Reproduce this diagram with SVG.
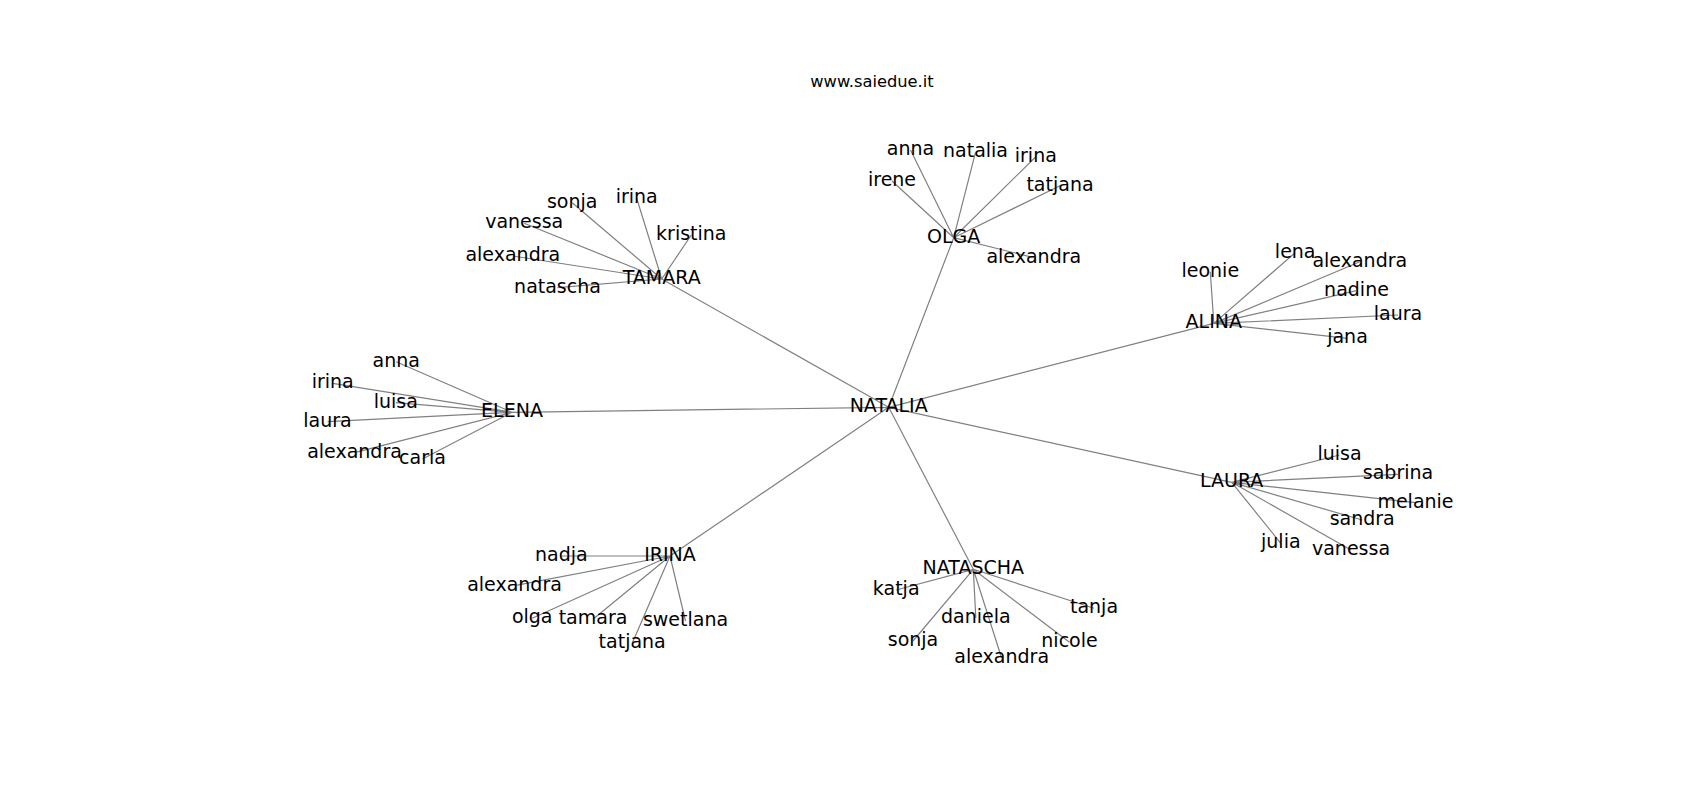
<svg xmlns="http://www.w3.org/2000/svg" width="1700" height="800" viewBox="0 0 1700 800">
<style>
.e{stroke:#808080;stroke-width:1.2;fill:none}
text{font-family:"DejaVu Sans","Liberation Sans",sans-serif;fill:#000;text-anchor:middle}
.n{font-size:19px}
.t{font-size:16.3px}
</style>
<rect width="1700" height="800" fill="#fff"/>
<text class="t" x="872" y="86.7">www.saiedue.it</text>
<g id="edges">
<path class="e" d="M888.7 407.3L953.7 237.7M888.7 407.3L1213.8 323.4M888.7 407.3L1231.7 482.3M888.7 407.3L661.7 279M888.7 407.3L512 412.3M888.7 407.3L670 556M888.7 407.3L973.3 569.3"/>
<path class="e" d="M953.7 237.7L910.5 150M953.7 237.7L975.5 152.3M953.7 237.7L1035.8 156.7M953.7 237.7L892 181M953.7 237.7L1060 185.7M953.7 237.7L1033.8 257.7"/>
<path class="e" d="M1213.8 323.4L1295.2 252.7M1213.8 323.4L1359.8 261.7M1213.8 323.4L1210.3 271.7M1213.8 323.4L1356.5 290.7M1213.8 323.4L1398 315M1213.8 323.4L1347.5 338.3"/>
<path class="e" d="M1231.7 482.3L1339.5 455M1231.7 482.3L1398 474.3M1231.7 482.3L1415.5 502.7M1231.7 482.3L1362.2 520M1231.7 482.3L1280.8 543.3M1231.7 482.3L1351 550"/>
<path class="e" d="M661.7 279L572.2 202.7M661.7 279L636.7 198.3M661.7 279L524.2 223.3M661.7 279L691.3 235M661.7 279L512.8 256M661.7 279L557.5 287.7"/>
<path class="e" d="M512 412.3L396.2 361.7M512 412.3L332.7 383.3M512 412.3L395.8 402.7M512 412.3L327.5 421.7M512 412.3L354.5 452.7M512 412.3L422.5 459"/>
<path class="e" d="M670 556L561.3 556M670 556L514.5 585.7M670 556L532.2 618.3M670 556L593 619.3M670 556L685.5 621M670 556L632.2 643.3"/>
<path class="e" d="M973.3 569.3L896.2 590M973.3 569.3L1094 608.3M973.3 569.3L975.8 617.7M973.3 569.3L913 641M973.3 569.3L1069.5 642.3M973.3 569.3L1001.7 658.3"/>
</g>
<g id="NATALIA"><text class="n" x="888.7" y="412.3">NATALIA</text></g>
<g id="OLGA"><text class="n" x="953.7" y="242.7">OLGA</text></g>
<g id="OLGA-anna"><text class="n" x="910.5" y="155">anna</text></g>
<g id="OLGA-natalia"><text class="n" x="975.5" y="157.3">natalia</text></g>
<g id="OLGA-irina"><text class="n" x="1035.8" y="161.7">irina</text></g>
<g id="OLGA-irene"><text class="n" x="892" y="186">irene</text></g>
<g id="OLGA-tatjana"><text class="n" x="1060" y="190.7">tatjana</text></g>
<g id="OLGA-alexandra"><text class="n" x="1033.8" y="262.7">alexandra</text></g>
<g id="ALINA"><text class="n" x="1213.8" y="328.3">ALINA</text></g>
<g id="ALINA-lena"><text class="n" x="1295.2" y="257.7">lena</text></g>
<g id="ALINA-alexandra"><text class="n" x="1359.8" y="266.7">alexandra</text></g>
<g id="ALINA-leonie"><text class="n" x="1210.3" y="276.7">leonie</text></g>
<g id="ALINA-nadine"><text class="n" x="1356.5" y="295.7">nadine</text></g>
<g id="ALINA-laura"><text class="n" x="1398" y="320">laura</text></g>
<g id="ALINA-jana"><text class="n" x="1347.5" y="343.3">jana</text></g>
<g id="LAURA"><text class="n" x="1231.7" y="487.3">LAURA</text></g>
<g id="LAURA-luisa"><text class="n" x="1339.5" y="460">luisa</text></g>
<g id="LAURA-sabrina"><text class="n" x="1398" y="479.3">sabrina</text></g>
<g id="LAURA-melanie"><text class="n" x="1415.5" y="507.7">melanie</text></g>
<g id="LAURA-sandra"><text class="n" x="1362.2" y="525">sandra</text></g>
<g id="LAURA-julia"><text class="n" x="1280.8" y="548.3">julia</text></g>
<g id="LAURA-vanessa"><text class="n" x="1351" y="555">vanessa</text></g>
<g id="TAMARA"><text class="n" x="661.7" y="284">TAMARA</text></g>
<g id="TAMARA-sonja"><text class="n" x="572.2" y="207.7">sonja</text></g>
<g id="TAMARA-irina"><text class="n" x="636.7" y="203.3">irina</text></g>
<g id="TAMARA-vanessa"><text class="n" x="524.2" y="228.3">vanessa</text></g>
<g id="TAMARA-kristina"><text class="n" x="691.3" y="240">kristina</text></g>
<g id="TAMARA-alexandra"><text class="n" x="512.8" y="261">alexandra</text></g>
<g id="TAMARA-natascha"><text class="n" x="557.5" y="292.7">natascha</text></g>
<g id="ELENA"><text class="n" x="512" y="417.3">ELENA</text></g>
<g id="ELENA-anna"><text class="n" x="396.2" y="366.7">anna</text></g>
<g id="ELENA-irina"><text class="n" x="332.7" y="388.3">irina</text></g>
<g id="ELENA-luisa"><text class="n" x="395.8" y="407.7">luisa</text></g>
<g id="ELENA-laura"><text class="n" x="327.5" y="426.7">laura</text></g>
<g id="ELENA-alexandra"><text class="n" x="354.5" y="457.7">alexandra</text></g>
<g id="ELENA-carla"><text class="n" x="422.5" y="464">carla</text></g>
<g id="IRINA"><text class="n" x="670" y="561">IRINA</text></g>
<g id="IRINA-nadja"><text class="n" x="561.3" y="561">nadja</text></g>
<g id="IRINA-alexandra"><text class="n" x="514.5" y="590.7">alexandra</text></g>
<g id="IRINA-olga"><text class="n" x="532.2" y="623.3">olga</text></g>
<g id="IRINA-tamara"><text class="n" x="593" y="624.3">tamara</text></g>
<g id="IRINA-swetlana"><text class="n" x="685.5" y="626">swetlana</text></g>
<g id="IRINA-tatjana"><text class="n" x="632.2" y="648.3">tatjana</text></g>
<g id="NATASCHA"><text class="n" x="973.3" y="574.3">NATASCHA</text></g>
<g id="NATASCHA-katja"><text class="n" x="896.2" y="595">katja</text></g>
<g id="NATASCHA-tanja"><text class="n" x="1094" y="613.3">tanja</text></g>
<g id="NATASCHA-daniela"><text class="n" x="975.8" y="622.7">daniela</text></g>
<g id="NATASCHA-sonja"><text class="n" x="913" y="646">sonja</text></g>
<g id="NATASCHA-nicole"><text class="n" x="1069.5" y="647.3">nicole</text></g>
<g id="NATASCHA-alexandra"><text class="n" x="1001.7" y="663.3">alexandra</text></g>
</svg>
